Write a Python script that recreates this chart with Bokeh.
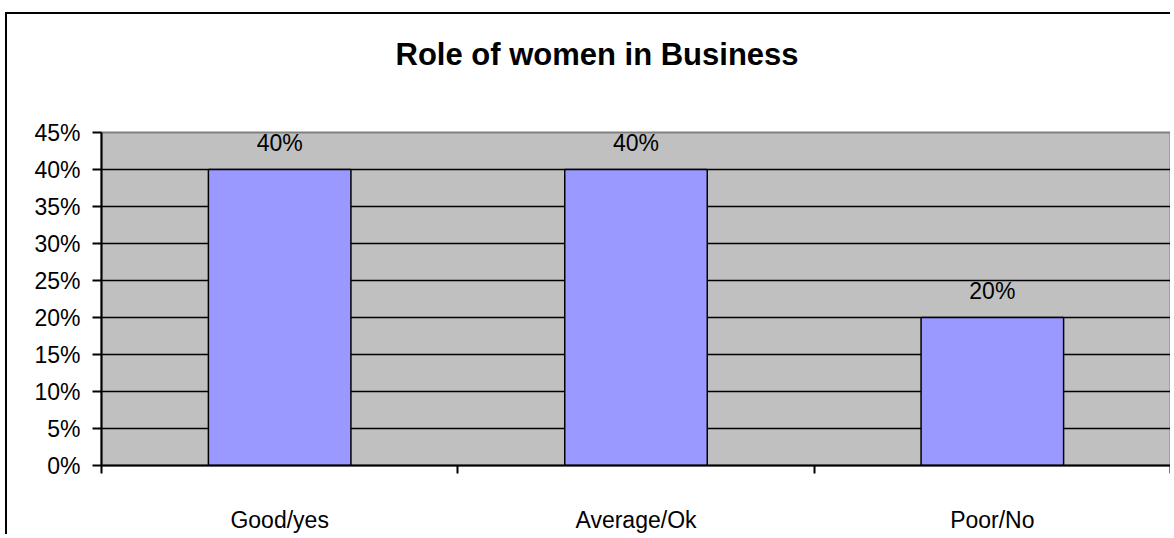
from bokeh.plotting import figure
from bokeh.models import ColumnDataSource, FixedTicker, NumeralTickFormatter, Title, Range1d
from bokeh.core.properties import value
from bokeh.embed import file_html
from bokeh.resources import INLINE

title_text = "Role of women in Business"
categories = ["Good/yes", "Average/Ok", "Poor/No"]
shares = [0.40, 0.40, 0.20]
share_labels = ["40%", "40%", "20%"]
y_ticks = [0.0, 0.05, 0.10, 0.15, 0.20, 0.25, 0.30, 0.35, 0.40, 0.45]

FONT = "Liberation Sans"
xs = [i + 0.5 for i in range(len(categories))]
src = ColumnDataSource(dict(x=xs, top=shares, lab=share_labels))

p = figure(width=1165, height=522, output_backend="svg", toolbar_location=None,
           x_range=Range1d(0, len(categories)), y_range=Range1d(0, 0.45),
           min_border_left=94, min_border_right=2, min_border_top=118, min_border_bottom=71)
p.margin = (12, 0, 0, 5)
p.styles = {"border-left": "2px solid black", "border-top": "2px solid black"}

p.background_fill_color = "#C0C0C0"
p.border_fill_color = "white"
p.outline_line_color = "#808080"
p.outline_line_width = 2

p.vbar(x="x", top="top", bottom=0, width=0.4, source=src,
       fill_color="#9999FF", line_color="black", line_width=1.5)
p.text(x="x", y="top", text="lab", source=src, text_align="center", text_baseline="bottom",
       y_offset=-14, text_font=value(FONT), text_font_size="23px", text_color="black")

# grid
p.xgrid.visible = False
p.ygrid.ticker = FixedTicker(ticks=y_ticks)
p.ygrid.grid_line_color = "black"
p.ygrid.grid_line_width = 1.5

# y axis
p.yaxis.ticker = FixedTicker(ticks=y_ticks)
p.yaxis.formatter = NumeralTickFormatter(format="0%")
p.yaxis.axis_line_color = "black"
p.yaxis.axis_line_width = 2
p.yaxis.major_tick_out = 9
p.yaxis.major_tick_in = 0
p.yaxis.major_tick_line_width = 2
p.yaxis.minor_tick_line_color = None
p.yaxis.major_label_standoff = 12
p.yaxis.major_label_text_font = FONT
p.yaxis.major_label_text_font_size = "23px"
p.yaxis.major_label_text_color = "black"

# x axis: labels at centers, tick marks at boundaries
p.xaxis.ticker = FixedTicker(ticks=xs, minor_ticks=list(range(len(categories) + 1)))
p.xaxis.major_label_overrides = {x: c for x, c in zip(xs, categories)}
p.xaxis.axis_line_color = "black"
p.xaxis.axis_line_width = 2
p.xaxis.major_tick_line_color = None
p.xaxis.minor_tick_out = 8
p.xaxis.minor_tick_in = 0
p.xaxis.minor_tick_line_width = 2
p.xaxis.minor_tick_line_color = "black"
p.xaxis.major_label_standoff = 33
p.xaxis.major_label_text_font = FONT
p.xaxis.major_label_text_font_size = "23px"
p.xaxis.major_label_text_color = "black"

# spacer between plot area and title, then the title itself
p.add_layout(Title(text=" ", standoff=53, text_font_size="1px"), "above")
p.add_layout(Title(text=title_text, align="left", offset=294, standoff=10,
                   text_font=FONT, text_font_size="31px", text_font_style="bold",
                   text_color="black"), "above")

open("out.html", "w").write(file_html(p, INLINE))
